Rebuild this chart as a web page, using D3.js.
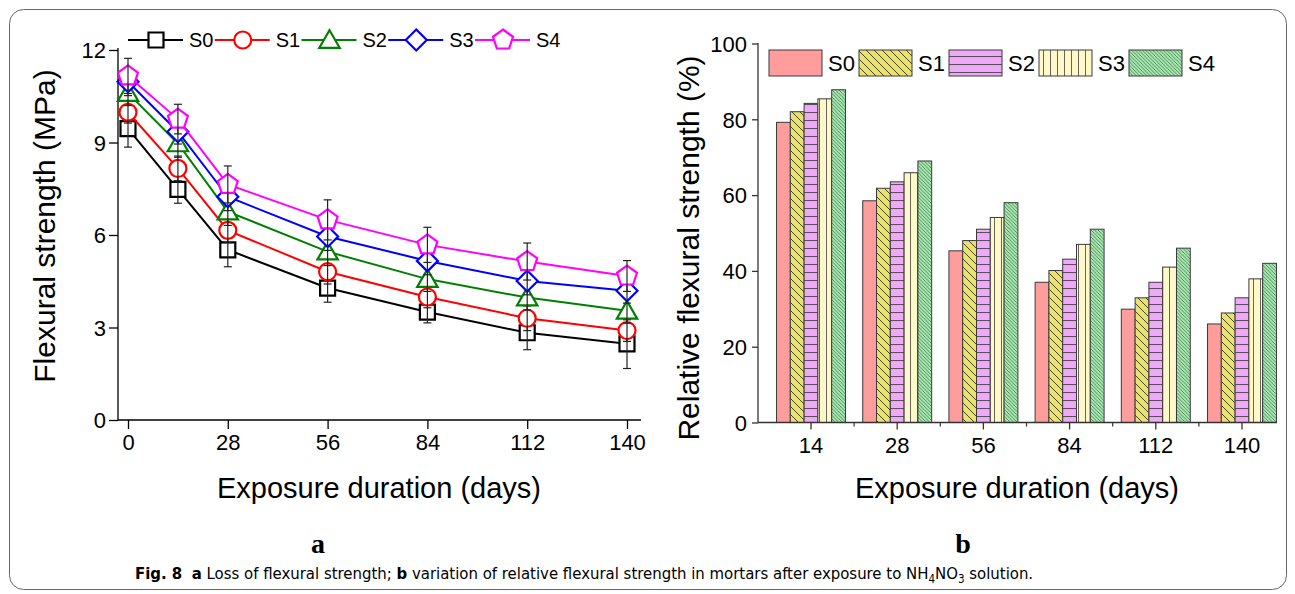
<!DOCTYPE html>
<html>
<head>
<meta charset="utf-8">
<script src="https://cdn.jsdelivr.net/npm/d3@7"></script>
<style>
  html, body { margin: 0; padding: 0; background: #fff; }
  svg { display: block; }
  text { font-family: "Liberation Sans", Arial, sans-serif; fill: #000; }
</style>
</head>
<body>
<svg id="chart" width="1295" height="594"></svg>
<script>
// ---------------- DATA ----------------
const days = [0, 14, 28, 56, 84, 112, 140];
const seriesNames = ["S0", "S1", "S2", "S3", "S4"];
const s0 = [9.45, 7.48, 5.52, 4.28, 3.50, 2.83, 2.47];
const s1 = [9.98, 8.16, 6.15, 4.81, 3.99, 3.30, 2.90];
const s2 = [10.60, 8.97, 6.76, 5.46, 4.57, 3.97, 3.54];
const s3 = [10.97, 9.35, 7.24, 5.95, 5.16, 4.51, 4.19];
const s4 = [11.16, 9.76, 7.64, 6.49, 5.68, 5.14, 4.67];
const e0 = [0.60, 0.45, 0.55, 0.46, 0.35, 0.55, 0.80];
const e1 = [0.35, 0.40, 0.40, 0.40, 0.35, 0.40, 0.35];
const e2 = [0.40, 0.45, 0.45, 0.45, 0.40, 0.40, 0.40];
const e3 = [0.45, 0.40, 0.45, 0.45, 0.45, 0.45, 0.40];
const e4 = [0.57, 0.48, 0.60, 0.65, 0.57, 0.60, 0.50];
const leftYTicks = [0, 3, 6, 9, 12];
const leftXTicks = [0, 28, 56, 84, 112, 140];

const barCategories = ["14", "28", "56", "84", "112", "140"];
const r0 = [79.2, 58.5, 45.3, 37.0, 29.9, 26.0];
const r1 = [82.0, 61.8, 48.0, 40.1, 32.9, 28.9];
const r2 = [84.2, 63.5, 51.0, 43.1, 37.0, 32.9];
const r3 = [85.4, 65.9, 54.1, 47.0, 41.0, 37.9];
const r4 = [87.8, 69.0, 58.0, 51.0, 46.0, 42.0];
const rightYTicks = [0, 20, 40, 60, 80, 100];

const leftXTitle = "Exposure duration (days)";
const leftYTitle = "Flexural strength (MPa)";
const rightXTitle = "Exposure duration (days)";
const rightYTitle = "Relative flexural strength (%)";

// ---------------- SETUP ----------------
const svg = d3.select("#chart");
svg.append("rect").attr("width", 1295).attr("height", 594).attr("fill", "#fff");
svg.append("rect").attr("x", 9.5).attr("y", 9.5).attr("width", 1277).attr("height", 580)
  .attr("rx", 14).attr("fill", "none").attr("stroke", "#666").attr("stroke-width", 1);

// ================= LEFT CHART =================
const lineColors = ["#000000", "#ff0000", "#008000", "#0000ff", "#ff00ff"];
const lineVals = [s0, s1, s2, s3, s4];
const lineErrs = [e0, e1, e2, e3, e4];

const xL = d3.scaleLinear().domain([0, 140]).range([128, 627]);
const yL = d3.scaleLinear().domain([0, 12]).range([420, 50]);

const gL = svg.append("g");

// custom symbol types
const sqType = { draw(ctx, size) { const h = Math.sqrt(size) / 2; ctx.rect(-h, -h, 2 * h, 2 * h); } };
const circType = { draw(ctx, size) { const r = Math.sqrt(size / Math.PI); ctx.moveTo(r, 0); ctx.arc(0, 0, r, 0, 2 * Math.PI); } };
const triType = { draw(ctx, size) { const s = Math.sqrt(size) / 2; ctx.moveTo(0, -s * 0.98); ctx.lineTo(s * 1.02, s * 0.78); ctx.lineTo(-s * 1.02, s * 0.78); ctx.closePath(); } };
const diaType = { draw(ctx, size) { const s = Math.sqrt(size) / 2; ctx.moveTo(0, -s); ctx.lineTo(s, 0); ctx.lineTo(0, s); ctx.lineTo(-s, 0); ctx.closePath(); } };
const pentType = { draw(ctx, size) { const r = Math.sqrt(size) / 2; for (let i = 0; i < 5; i++) { const a = -Math.PI / 2 + i * 2 * Math.PI / 5; const px = r * Math.cos(a), py = r * Math.sin(a); if (i === 0) ctx.moveTo(px, py); else ctx.lineTo(px, py); } ctx.closePath(); } };
const symTypes = [sqType, circType, triType, diaType, pentType];
const symSizes = [225, 227, 400, 441, 440];

// axes
gL.append("line").attr("x1", 118).attr("x2", 641).attr("y1", 420).attr("y2", 420).attr("stroke", "#000").attr("stroke-width", 1.3);
gL.append("line").attr("x1", 118).attr("x2", 118).attr("y1", 48).attr("y2", 420).attr("stroke", "#000").attr("stroke-width", 1.3);

const axLY = gL.append("g").attr("transform", "translate(118,0)")
  .call(d3.axisLeft(yL).tickValues(leftYTicks).tickSize(9).tickPadding(3).tickSizeOuter(0));
axLY.select(".domain").remove();
axLY.selectAll("line").attr("stroke", "#000").attr("stroke-width", 1.3);
axLY.selectAll("text").style("font-size", "22px").attr("dy", "0.35em");

const axLX = gL.append("g").attr("transform", "translate(0,420)")
  .call(d3.axisBottom(xL).tickValues(leftXTicks).tickSize(9).tickPadding(5).tickSizeOuter(0));
axLX.select(".domain").remove();
axLX.selectAll("line").attr("stroke", "#000").attr("stroke-width", 1.3);
axLX.selectAll("text").style("font-size", "22px");

// series
const lineGen = d3.line().x((d, i) => xL(days[i])).y(d => yL(d));
lineVals.forEach((vals, si) => {
  const g = gL.append("g");
  g.append("path").datum(vals).attr("d", lineGen).attr("fill", "none")
    .attr("stroke", lineColors[si]).attr("stroke-width", 2);
  g.selectAll("path.m").data(vals).enter().append("path").attr("class", "m")
    .attr("transform", (d, i) => `translate(${xL(days[i])},${yL(d)})`)
    .attr("d", d3.symbol().type(symTypes[si]).size(symSizes[si]))
    .attr("fill", "#fff").attr("stroke", lineColors[si]).attr("stroke-width", 2.2);
  const eb = g.selectAll("g.eb").data(vals).enter().append("g").attr("class", "eb");
  eb.append("line").attr("x1", (d, i) => xL(days[i])).attr("x2", (d, i) => xL(days[i]))
    .attr("y1", (d, i) => yL(d + lineErrs[si][i])).attr("y2", (d, i) => yL(d - lineErrs[si][i]))
    .attr("stroke", "#222").attr("stroke-width", 1.2);
  eb.append("line").attr("x1", (d, i) => xL(days[i]) - 4).attr("x2", (d, i) => xL(days[i]) + 4)
    .attr("y1", (d, i) => yL(d + lineErrs[si][i])).attr("y2", (d, i) => yL(d + lineErrs[si][i]))
    .attr("stroke", "#222").attr("stroke-width", 1.2);
  eb.append("line").attr("x1", (d, i) => xL(days[i]) - 4).attr("x2", (d, i) => xL(days[i]) + 4)
    .attr("y1", (d, i) => yL(d - lineErrs[si][i])).attr("y2", (d, i) => yL(d - lineErrs[si][i]))
    .attr("stroke", "#222").attr("stroke-width", 1.2);
});

// legend (left)
const legLX = d3.scalePoint().domain(seriesNames).range([128, 475]);
seriesNames.forEach((name, si) => {
  const x0 = legLX(name);
  const g = gL.append("g");
  g.append("line").attr("x1", x0).attr("x2", x0 + 55).attr("y1", 40).attr("y2", 40)
    .attr("stroke", lineColors[si]).attr("stroke-width", 2);
  g.append("path").attr("transform", `translate(${x0 + 28},40)`)
    .attr("d", d3.symbol().type(symTypes[si]).size(symSizes[si]))
    .attr("fill", "#fff").attr("stroke", lineColors[si]).attr("stroke-width", 2.2);
  g.append("text").attr("x", x0 + 61).attr("y", 47).style("font-size", "20px").text(name);
});

// titles
gL.append("text").attr("x", 379).attr("y", 498).attr("text-anchor", "middle")
  .style("font-size", "29px").text(leftXTitle);
gL.append("text").attr("transform", "translate(55,226) rotate(-90)").attr("text-anchor", "middle")
  .style("font-size", "30px").text(leftYTitle);

// ================= RIGHT CHART =================
const barFills = ["#ff9c9c", "#ebe26a", "#f1a8fa", "#fff9c9", "#a9eab3"];
const barVals = [r0, r1, r2, r3, r4];

const defs = svg.append("defs");
function pat(id, bg, w, h, pathD, col, sw) {
  const p = defs.append("pattern").attr("id", id).attr("patternUnits", "userSpaceOnUse")
    .attr("width", w).attr("height", h);
  p.append("rect").attr("width", w).attr("height", h).attr("fill", bg);
  if (pathD) p.append("path").attr("d", pathD).attr("stroke", col).attr("stroke-width", sw).attr("fill", "none");
}
pat("p0", barFills[0], 8, 8, null);
pat("p1", barFills[1], 8, 8, "M-2,-2 L10,10 M-2,6 L2,10 M6,-2 L10,2", "#333", 0.9);
pat("p2", barFills[2], 8, 8, "M0,0.5 L8,0.5", "#555", 1.1);
pat("p3", barFills[3], 7, 8, "M0.5,0 L0.5,8", "#555", 0.9);
pat("p4", barFills[4], 3.5, 3.5, "M-1,-1 L4.5,4.5 M-1,2.5 L1,4.5 M2.5,-1 L4.5,1", "#2d5a33", 0.7);
const patIds = ["p0", "p1", "p2", "p3", "p4"];

const xR = d3.scaleBand().domain(barCategories).range([767.9, 1285.1]).paddingInner(0.2).paddingOuter(0.1);
const xSub = d3.scaleBand().domain(seriesNames).range([0, xR.bandwidth()]);
const yR = d3.scaleLinear().domain([0, 100]).range([422.5, 43.5]);

const gR = svg.append("g");

// bars
barCategories.forEach((cat, ci) => {
  seriesNames.forEach((name, si) => {
    const v = barVals[si][ci];
    gR.append("rect").attr("x", xR(cat) + xSub(name)).attr("y", yR(v))
      .attr("width", xSub.bandwidth()).attr("height", yR(0) - yR(v))
      .attr("fill", `url(#${patIds[si]})`).attr("stroke", "#3a3a3a").attr("stroke-width", 1);
  });
});

// axes
gR.append("line").attr("x1", 758).attr("x2", 1277).attr("y1", 422.5).attr("y2", 422.5).attr("stroke", "#333").attr("stroke-width", 1.3);
gR.append("line").attr("x1", 758).attr("x2", 758).attr("y1", 43).attr("y2", 422.5).attr("stroke", "#333").attr("stroke-width", 1.3);

const axRY = gR.append("g").attr("transform", "translate(758,0)")
  .call(d3.axisLeft(yR).tickValues(rightYTicks).tickSize(6).tickPadding(5).tickSizeOuter(0));
axRY.select(".domain").remove();
axRY.selectAll("line").attr("stroke", "#333").attr("stroke-width", 1.3);
axRY.selectAll("text").style("font-size", "22px").attr("dy", "0.35em");

const axRX = gR.append("g").attr("transform", "translate(0,422.5)")
  .call(d3.axisBottom(xR).tickSize(7).tickPadding(8).tickSizeOuter(0));
axRX.select(".domain").remove();
axRX.selectAll("line").attr("stroke", "#333").attr("stroke-width", 1.3);
axRX.selectAll("text").style("font-size", "22px");

// minor ticks at group boundaries
const gapHalf = xR.step() * xR.paddingInner() / 2;
gR.selectAll("line.minor").data(barCategories.slice(0, -1)).enter().append("line").attr("class", "minor")
  .attr("x1", d => xR(d) + xR.bandwidth() + gapHalf).attr("x2", d => xR(d) + xR.bandwidth() + gapHalf)
  .attr("y1", 422.5).attr("y2", 426.5).attr("stroke", "#333").attr("stroke-width", 1.2);

// legend (right)
const legRX = d3.scalePoint().domain(seriesNames).range([769, 1129]);
seriesNames.forEach((name, si) => {
  const x0 = legRX(name);
  gR.append("rect").attr("x", x0).attr("y", 50).attr("width", 53).attr("height", 26)
    .attr("fill", `url(#${patIds[si]})`).attr("stroke", "#3a3a3a").attr("stroke-width", 1);
  gR.append("text").attr("x", x0 + 59).attr("y", 71).style("font-size", "22px").text(name);
});

// titles
gR.append("text").attr("x", 1017).attr("y", 498).attr("text-anchor", "middle")
  .style("font-size", "29px").text(rightXTitle);
gR.append("text").attr("transform", "translate(699,248) rotate(-90)").attr("text-anchor", "middle")
  .style("font-size", "30px").text(rightYTitle);

// ================= PANEL LABELS & CAPTION =================
svg.append("text").attr("x", 318).attr("y", 553).attr("text-anchor", "middle")
  .style("font-family", "'Liberation Serif', 'Times New Roman', serif").style("font-weight", "bold")
  .style("font-size", "28px").text("a");
svg.append("text").attr("x", 963).attr("y", 553).attr("text-anchor", "middle")
  .style("font-family", "'Liberation Serif', 'Times New Roman', serif").style("font-weight", "bold")
  .style("font-size", "28px").text("b");

const cap = svg.append("text").attr("x", 135).attr("y", 579)
  .style("font-family", "'Liberation Sans Narrow', 'DejaVu Sans Condensed', 'Open Sans', sans-serif")
  .style("font-size", "16.6px");
cap.append("tspan").style("font-weight", "bold").text("Fig. 8");
cap.append("tspan").text("\u00a0\u00a0");
cap.append("tspan").style("font-weight", "bold").text("a");
cap.append("tspan").text(" Loss of flexural strength; ");
cap.append("tspan").style("font-weight", "bold").text("b");
cap.append("tspan").text(" variation of relative flexural strength in mortars after exposure to NH");
cap.append("tspan").attr("dy", 4).style("font-size", "11.5px").text("4");
cap.append("tspan").attr("dy", -4).text("NO");
cap.append("tspan").attr("dy", 4).style("font-size", "11.5px").text("3");
cap.append("tspan").attr("dy", -4).text(" solution.");
</script>
</body>
</html>
